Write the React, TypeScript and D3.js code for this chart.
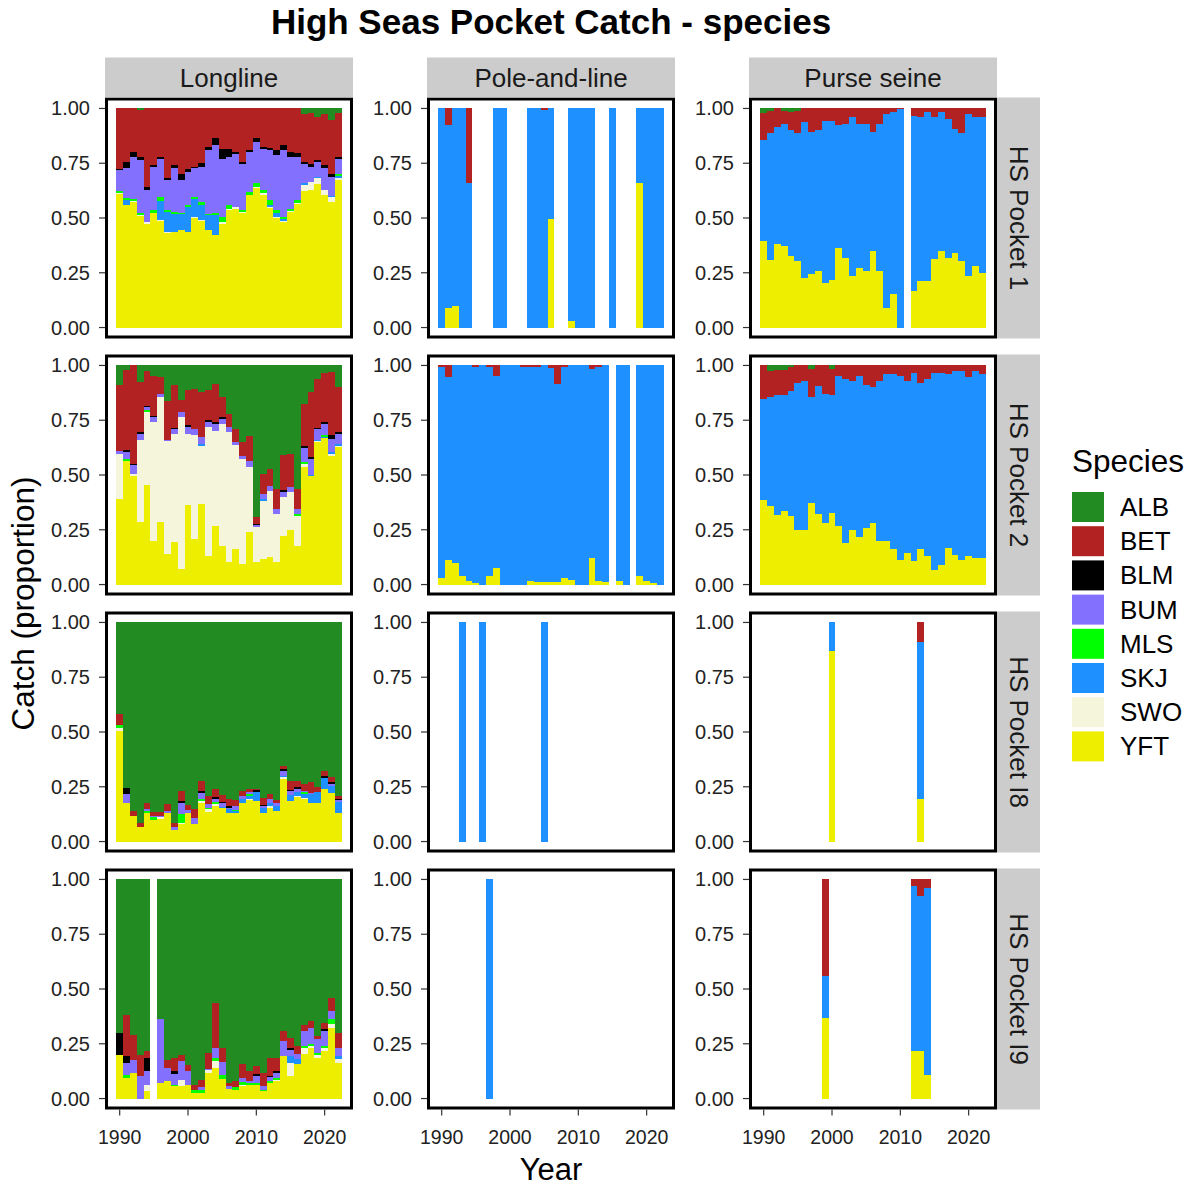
import React, { useEffect, useRef } from "react";
import * as d3 from "d3";

const species = ["ALB", "BET", "BLM", "BUM", "MLS", "SKJ", "SWO", "YFT"];
const speciesColors = ["#228B22", "#B22222", "#000000", "#8470FF", "#00FF00", "#1E90FF", "#F5F5DC", "#EEEE00"];
const gears = ["Longline", "Pole-and-line", "Purse seine"];
const pockets = ["HS Pocket 1", "HS Pocket 2", "HS Pocket I8", "HS Pocket I9"];
const yearTicks = [1990, 2000, 2010, 2020];
const catchTicks = [0, 0.25, 0.5, 0.75, 1];

// rows: year, ALB, BET, BLM, BUM, MLS, SKJ, SWO, YFT  (% of catch)
const longlineP1 = [
  [1990, 0, 27.7, 0.6, 9.3, 1.2, 0, 0.3, 60.9],
  [1991, 0, 24.4, 3.0, 13.4, 1.2, 2.1, 0, 55.9],
  [1992, 0, 20.1, 2.0, 19.3, 0.9, 0, 0.6, 57.1],
  [1993, 0.8, 21.3, 1.5, 23.9, 1.2, 0, 0.3, 51.0],
  [1994, 0, 35.8, 1.5, 14.5, 0, 0, 1.1, 47.2],
  [1995, 0, 25.9, 0.8, 19.8, 1.1, 0, 0, 52.5],
  [1996, 0, 22.1, 0.8, 17.8, 1.4, 9.0, 0.5, 48.6],
  [1997, 0, 32.0, 0.8, 13.7, 0.8, 9.1, 0.3, 43.4],
  [1998, 0, 25.9, 1.5, 19.8, 0.8, 8.4, 0, 43.7],
  [1999, 0, 29.7, 3.0, 14.8, 0.5, 7.6, 0, 44.4],
  [2000, 0, 27.7, 1.2, 15.2, 0.9, 11.3, 0.3, 43.4],
  [2001, 0, 26.6, 0.8, 13.2, 0.8, 8.1, 0.5, 50.1],
  [2002, 0, 25.1, 1.5, 16.3, 1.2, 6.8, 0.5, 48.6],
  [2003, 0, 17.5, 1.5, 28.9, 0.8, 6.8, 0, 44.4],
  [2004, 0, 13.7, 3.0, 31.2, 0.8, 9.1, 0, 42.2],
  [2005, 0, 18.3, 4.6, 26.6, 2.6, 0, 0.5, 47.5],
  [2006, 0, 18.3, 3.8, 22.1, 1.8, 0, 0.5, 53.6],
  [2007, 0, 19.8, 0.8, 24.4, 0, 0, 0.8, 54.3],
  [2008, 0, 24.4, 0.8, 21.3, 0.8, 0, 0.3, 52.5],
  [2009, 0, 19.0, 0.8, 18.3, 1.2, 0, 0.3, 60.4],
  [2010, 0, 13.7, 1.5, 19.0, 1.5, 0, 0.8, 63.5],
  [2011, 0, 17.5, 0.8, 19.0, 1.1, 0, 0.9, 60.7],
  [2012, 0, 18.0, 0.8, 23.1, 2.3, 0.8, 0.5, 54.6],
  [2013, 0, 19.0, 2.3, 25.1, 1.5, 1.5, 0.5, 50.1],
  [2014, 0, 16.7, 2.3, 30.4, 1.1, 0.9, 0.3, 48.2],
  [2015, 0, 19.8, 2.3, 23.6, 1.2, 0, 0.3, 52.8],
  [2016, 0, 20.5, 1.5, 19.9, 1.2, 0, 0.3, 56.5],
  [2017, 2.3, 22.1, 0.8, 8.7, 0, 0.8, 2.7, 62.3],
  [2018, 2.3, 22.8, 1.5, 6.8, 0, 0.3, 3.5, 62.7],
  [2019, 3.8, 19.8, 0.8, 6.8, 0, 0.8, 2.3, 65.8],
  [2020, 2.7, 23.1, 1.2, 10.2, 0, 0, 2.3, 60.4],
  [2021, 5.3, 24.4, 1.5, 8.7, 0, 0.6, 2.4, 57.1],
  [2022, 2.3, 19.8, 0.8, 7.2, 0.9, 0.8, 1.1, 67.3],
];

const longlineP2 = [
  [1990, 9.1, 29.7, 0, 1.5, 0, 0, 20.5, 39.1],
  [1991, 2.3, 36.5, 0.5, 3.3, 0.8, 0, 0, 56.6],
  [1992, 0, 44.9, 0.8, 3.8, 0, 0, 0.8, 49.8],
  [1993, 7.6, 22.8, 0.8, 3.0, 0, 0, 37.3, 28.5],
  [1994, 2.3, 16.0, 0.8, 1.1, 0.9, 0, 33.5, 45.2],
  [1995, 4.6, 18.3, 0.8, 2.3, 0, 0, 54.0, 20.1],
  [1996, 5.3, 7.6, 0, 1.5, 0, 0, 57.1, 28.5],
  [1997, 16.0, 17.8, 0, 0.6, 0, 0, 51.6, 14.0],
  [1998, 9.1, 19.5, 0.6, 2.0, 0, 0, 49.5, 19.3],
  [1999, 16.0, 5.3, 0, 2.3, 0, 0, 69.3, 7.2],
  [2000, 11.4, 16.0, 0.8, 3.0, 0, 0, 32.7, 36.1],
  [2001, 10.7, 18.3, 0, 3.0, 0, 0, 47.2, 20.9],
  [2002, 12.2, 20.5, 0, 3.0, 0, 0.8, 26.6, 36.8],
  [2003, 11.4, 13.7, 0.8, 2.3, 0, 0, 58.6, 13.2],
  [2004, 8.4, 17.5, 0.8, 3.0, 0, 0, 43.4, 26.9],
  [2005, 14.5, 9.1, 0.8, 2.3, 0, 0, 55.6, 17.8],
  [2006, 22.1, 6.1, 0, 2.3, 0, 0, 59.4, 10.2],
  [2007, 28.9, 6.1, 0, 1.5, 0, 0, 47.2, 16.3],
  [2008, 35.0, 6.1, 0, 1.5, 0, 0, 47.9, 9.4],
  [2009, 32.0, 11.4, 0, 3.0, 0, 0, 29.7, 23.9],
  [2010, 69.3, 3.0, 0.8, 0.5, 0, 0, 16.3, 10.2],
  [2011, 49.5, 9.1, 0, 2.3, 0, 0.8, 26.6, 11.7],
  [2012, 47.2, 7.6, 0, 2.3, 0, 0, 30.4, 12.5],
  [2013, 56.3, 9.1, 0, 2.3, 0, 0, 22.1, 10.2],
  [2014, 41.1, 16.0, 0.8, 2.3, 0, 0, 17.5, 22.4],
  [2015, 40.3, 15.2, 0, 2.3, 0, 0, 17.5, 24.7],
  [2016, 56.3, 9.1, 0, 2.3, 0.8, 0, 13.7, 17.8],
  [2017, 17.5, 19.3, 0.8, 6.5, 0.8, 0, 1.5, 53.6],
  [2018, 12.2, 29.7, 0.8, 7.3, 0, 0.6, 0, 49.5],
  [2019, 6.1, 22.5, 0.6, 4.6, 0, 0.6, 0.6, 65.0],
  [2020, 3.3, 22.5, 0.8, 5.3, 0.8, 0.5, 0, 66.8],
  [2021, 3.0, 28.9, 1.5, 6.1, 0, 0.8, 0.8, 58.9],
  [2022, 9.9, 20.5, 0.8, 4.6, 0, 0.8, 0.5, 63.0],
];

const longlineP3 = [
  [1990, 41.9, 5.0, 0, 0, 1.1, 0, 1.5, 50.5],
  [1991, 75.3, 0, 3.0, 3.8, 0, 0, 0, 17.8],
  [1992, 86.0, 2.3, 0, 0, 0, 0, 0, 11.7],
  [1993, 91.3, 1.5, 0, 0, 0, 0, 0, 6.8],
  [1994, 82.2, 3.0, 0, 0.8, 0.8, 0, 0, 13.2],
  [1995, 86.8, 1.5, 0, 0.8, 1.1, 0, 0, 9.9],
  [1996, 86.8, 1.5, 0, 0.8, 0, 0, 0.8, 10.2],
  [1997, 83.0, 3.0, 0, 0.8, 0, 0, 0, 13.2],
  [1998, 91.3, 1.5, 0, 1.5, 0, 0, 0, 5.3],
  [1999, 76.9, 4.6, 0.8, 5.3, 3.8, 0, 0.8, 7.9],
  [2000, 83.0, 2.3, 0, 1.2, 0, 0, 0, 13.2],
  [2001, 85.2, 3.8, 0, 3.0, 0, 0, 0, 7.9],
  [2002, 72.3, 4.6, 0.8, 3.0, 0.8, 0, 0.8, 17.8],
  [2003, 79.1, 3.8, 0, 1.5, 0.5, 0, 1.5, 13.5],
  [2004, 76.1, 3.8, 0.8, 1.5, 0.8, 0, 0.8, 16.3],
  [2005, 78.4, 3.0, 0.8, 1.5, 0, 0.8, 0, 15.1],
  [2006, 80.7, 3.3, 0.8, 0.5, 0, 1.8, 0, 12.9],
  [2007, 80.7, 3.0, 0, 1.5, 0.8, 0.5, 0, 13.2],
  [2008, 76.9, 2.3, 0, 1.5, 0, 1.5, 0, 17.8],
  [2009, 76.1, 1.5, 0, 0.8, 0.8, 1.5, 0.3, 19.0],
  [2010, 75.6, 0.8, 0.6, 0.3, 0, 4.1, 0, 18.3],
  [2011, 79.9, 3.0, 0.8, 0.8, 0, 2.3, 0, 12.9],
  [2012, 78.4, 2.3, 0, 1.5, 0, 1.5, 0.8, 15.5],
  [2013, 80.7, 1.5, 0, 1.5, 0, 2.3, 0, 13.7],
  [2014, 65.4, 1.5, 0.8, 2.3, 0, 0.8, 0.5, 28.8],
  [2015, 72.3, 3.8, 0.8, 1.5, 0, 3.0, 0, 18.3],
  [2016, 72.3, 3.0, 0.8, 1.2, 0, 1.8, 0.5, 20.4],
  [2017, 73.8, 3.0, 0, 0.8, 0.5, 1.8, 0.5, 19.6],
  [2018, 73.1, 4.6, 0, 0.8, 0, 3.8, 0, 17.8],
  [2019, 75.3, 2.3, 0, 0, 0, 4.6, 0, 17.8],
  [2020, 67.7, 2.3, 0.8, 0, 0, 5.3, 0, 23.9],
  [2021, 70.8, 2.3, 0.8, 0.8, 0, 3.0, 0, 22.4],
  [2022, 79.1, 1.5, 0.5, 0.8, 0, 4.9, 0, 13.2],
];

// no longline data for 1995 in pocket I9
const longlineP4 = [
  [1990, 70.0, 0, 9.9, 0, 0, 0, 0, 20.1],
  [1991, 61.6, 19.0, 3.0, 5.3, 1.5, 0, 0, 9.4],
  [1992, 70.8, 11.4, 0, 6.1, 0, 0, 0, 11.7],
  [1993, 79.9, 9.9, 0, 10.2, 0, 0, 0, 0],
  [1994, 78.4, 3.0, 6.1, 6.1, 0, 0, 3.0, 3.3],
  [1996, 63.9, 0, 0, 28.9, 0, 0, 0, 7.2],
  [1997, 82.2, 3.8, 0, 6.1, 0, 0, 0, 7.9],
  [1998, 81.4, 6.1, 1.5, 4.6, 0.8, 0, 0, 5.6],
  [1999, 79.9, 3.0, 0, 8.4, 0, 0, 3.0, 5.6],
  [2000, 84.5, 3.0, 0, 6.1, 0, 0, 0, 6.4],
  [2001, 93.6, 2.3, 0, 0, 1.5, 0, 0, 2.6],
  [2002, 91.3, 3.0, 0, 1.5, 1.2, 0, 0, 2.6],
  [2003, 79.1, 7.3, 0, 0.6, 0, 0, 1.2, 11.7],
  [2004, 56.3, 20.5, 0, 4.6, 1.5, 0, 3.0, 14.0],
  [2005, 76.9, 6.1, 0, 6.1, 1.5, 0, 0, 9.1],
  [2006, 92.8, 1.5, 0, 1.2, 0, 0, 0, 4.4],
  [2007, 92.1, 2.6, 0, 0, 1.2, 0, 0, 4.1],
  [2008, 84.5, 6.1, 0, 2.0, 1.1, 0, 0.8, 5.6],
  [2009, 87.5, 4.6, 0, 0.8, 0.8, 0, 0, 6.4],
  [2010, 85.2, 3.8, 0.8, 3.0, 0.8, 0, 0, 6.4],
  [2011, 88.3, 6.1, 0, 1.5, 0.8, 0, 0, 3.3],
  [2012, 81.4, 8.4, 0.5, 1.8, 0.8, 0, 0, 7.2],
  [2013, 81.4, 6.1, 0.8, 2.3, 0.8, 0, 0.8, 7.9],
  [2014, 69.3, 4.6, 0, 6.8, 0, 0, 0, 19.3],
  [2015, 72.3, 4.6, 0.8, 3.0, 0, 3.0, 6.1, 10.2],
  [2016, 75.3, 3.8, 0, 2.3, 0, 2.3, 0, 15.5],
  [2017, 66.2, 3.0, 0, 6.8, 0.8, 0, 3.0, 20.1],
  [2018, 64.7, 3.0, 0, 7.6, 0.8, 0, 0.8, 23.1],
  [2019, 71.5, 1.5, 0, 6.1, 0.8, 0, 1.5, 18.6],
  [2020, 65.4, 3.0, 0.8, 6.8, 0.8, 0, 1.5, 21.6],
  [2021, 54.0, 6.1, 0, 3.8, 2.3, 0, 1.5, 32.3],
  [2022, 70.0, 6.8, 0, 3.8, 0, 1.2, 1.8, 16.3],
];

const poleP1 = [
  [1990, 0, 0, 0, 0, 0, 100, 0, 0],
  [1991, 0, 7.6, 0, 0, 0, 83.7, 0, 8.7],
  [1992, 0, 0, 0, 0, 0, 90.1, 0, 9.9],
  [1993, 0, 0, 0, 0, 0, 100, 0, 0],
  [1994, 0, 33.8, 0, 0, 0, 66.2, 0, 0],
  [1998, 0, 0, 0, 0, 0, 100, 0, 0],
  [1999, 0, 0, 0, 0, 0, 100, 0, 0],
  [2003, 0, 0, 0, 0, 0, 100, 0, 0],
  [2004, 0, 0, 0, 0, 0, 100, 0, 0],
  [2005, 0, 0.8, 0, 0, 0, 99.2, 0, 0],
  [2006, 0, 0, 0, 0, 0, 50.5, 0, 49.5],
  [2009, 0, 0, 0, 0, 0, 97.0, 0, 3.0],
  [2010, 0, 0, 0, 0, 0, 100, 0, 0],
  [2011, 0, 0, 0, 0, 0, 100, 0, 0],
  [2012, 0, 0, 0, 0, 0, 100, 0, 0],
  [2015, 0, 0, 0, 0, 0, 100, 0, 0],
  [2019, 0, 0, 0, 0, 0, 33.8, 0, 66.2],
  [2020, 0, 0, 0, 0, 0, 100, 0, 0],
  [2021, 0, 0, 0, 0, 0, 100, 0, 0],
  [2022, 0, 0, 0, 0, 0, 100, 0, 0],
];

const poleP2 = [
  [1990, 0, 0.8, 0, 0, 0, 96.2, 0, 3.0],
  [1991, 0, 5.3, 0, 0, 0, 83.7, 0, 11.0],
  [1992, 0, 0, 0, 0, 0, 90.1, 0, 9.9],
  [1993, 0, 0, 0, 0, 0, 95.9, 0, 4.1],
  [1994, 0, 0, 0, 0, 0, 98.6, 0, 1.4],
  [1995, 0, 0.8, 0, 0, 0, 98.4, 0, 0.8],
  [1996, 0, 0, 0, 0, 0, 100, 0, 0],
  [1997, 0, 0.8, 0, 0, 0, 95.1, 0, 4.1],
  [1998, 0, 4.6, 0, 0, 0, 87.8, 0, 7.6],
  [1999, 0, 0, 0, 0, 0, 100, 0, 0],
  [2000, 0, 0, 0, 0, 0, 100, 0, 0],
  [2001, 0, 0, 0, 0, 0, 100, 0, 0],
  [2002, 0, 0.8, 0, 0, 0, 99.2, 0, 0],
  [2003, 0, 0.8, 0, 0, 0, 97.5, 0, 1.7],
  [2004, 0, 0.8, 0, 0, 0, 98.1, 0, 1.1],
  [2005, 0, 0, 0, 0, 0, 98.9, 0, 1.1],
  [2006, 0, 1.2, 0, 0, 0, 97.7, 0, 1.1],
  [2007, 0, 8.4, 0, 0, 0, 90.5, 0, 1.1],
  [2008, 0, 0.8, 0, 0, 0, 96.2, 0, 3.0],
  [2009, 0, 0, 0, 0, 0, 97.7, 0, 2.3],
  [2010, 0, 0, 0, 0, 0, 100, 0, 0],
  [2011, 0, 0, 0, 0, 0, 100, 0, 0],
  [2012, 0, 1.5, 0, 0, 0, 86.3, 0, 12.2],
  [2013, 0, 0.8, 0, 0, 0, 97.5, 0, 1.7],
  [2014, 0, 0, 0, 0, 0, 98.9, 0, 1.1],
  [2016, 0, 0, 0, 0, 0, 98.3, 0, 1.7],
  [2017, 0, 0, 0, 0, 0, 100, 0, 0],
  [2019, 0, 0, 0, 0, 0, 95.9, 0, 4.1],
  [2020, 0, 0, 0, 0, 0, 98.3, 0, 1.7],
  [2021, 0, 0, 0, 0, 0, 99.2, 0, 0.8],
  [2022, 0, 0, 0, 0, 0, 100, 0, 0],
];

const poleP3 = [
  [1993, 0, 0, 0, 0, 0, 100, 0, 0],
  [1996, 0, 0, 0, 0, 0, 100, 0, 0],
  [2005, 0, 0, 0, 0, 0, 100, 0, 0],
];

const poleP4 = [[1997, 0, 0, 0, 0, 0, 100, 0, 0]];

const purseP1 = [
  [1990, 2.3, 12.2, 0, 0, 0, 46.0, 0, 39.6],
  [1991, 1.2, 10.2, 0, 0, 0, 57.8, 0, 30.7],
  [1992, 0, 8.4, 0, 0, 0, 53.6, 0, 38.1],
  [1993, 1.1, 6.2, 0, 0, 0, 55.4, 0, 37.3],
  [1994, 1.5, 8.4, 0, 0, 0, 57.4, 0, 32.7],
  [1995, 1.2, 10.2, 0, 0, 0, 58.1, 0, 30.4],
  [1996, 0, 6.4, 0, 0, 0, 70.8, 0, 22.8],
  [1997, 0, 10.7, 0, 0, 0, 65.0, 0, 24.4],
  [1998, 0, 9.9, 0, 0, 0, 64.2, 0, 25.9],
  [1999, 0, 5.6, 0, 0, 0, 73.8, 0, 20.5],
  [2000, 0, 5.6, 0, 0, 0, 72.9, 0, 21.5],
  [2001, 0, 7.6, 0, 0, 0, 55.9, 0, 36.5],
  [2002, 0, 7.2, 0, 0, 0, 60.9, 0, 32.0],
  [2003, 0, 4.1, 0, 0, 0, 72.3, 0, 23.6],
  [2004, 0, 7.2, 0, 0, 0, 65.4, 0, 27.4],
  [2005, 0, 7.2, 0, 0, 0, 67.0, 0, 25.9],
  [2006, 0, 10.7, 0, 0, 0, 54.3, 0, 35.0],
  [2007, 0, 7.2, 0, 0, 0, 67.0, 0, 25.9],
  [2008, 0, 2.6, 0, 0, 0, 88.3, 0, 9.1],
  [2009, 0, 1.5, 0, 0, 0, 83.3, 0, 15.2],
  [2010, 0, 0.3, 0, 0, 0, 99.7, 0, 0],
  [2012, 0, 3.3, 0, 0, 0, 79.9, 0, 16.7],
  [2013, 0, 4.1, 0, 0, 0, 74.6, 0, 21.3],
  [2014, 0, 1.8, 0, 0, 0, 76.9, 0, 21.3],
  [2015, 0, 4.1, 0, 0, 0, 64.7, 0, 31.2],
  [2016, 0, 1.8, 0, 0, 0, 63.2, 0, 35.0],
  [2017, 0, 4.9, 0, 0, 0, 63.2, 0, 32.0],
  [2018, 0, 9.4, 0, 0, 0, 56.3, 0, 34.2],
  [2019, 0, 11.0, 0, 0, 0, 58.6, 0, 30.4],
  [2020, 0, 2.6, 0, 0, 0, 73.8, 0, 23.6],
  [2021, 0, 3.8, 0, 0, 0, 68.0, 0, 28.2],
  [2022, 0, 3.8, 0, 0, 0, 71.1, 0, 25.1],
];

const purseP2 = [
  [1990, 0, 15.5, 0, 0, 0, 45.7, 0, 38.8],
  [1991, 2.7, 11.7, 0, 0, 0, 49.8, 0, 35.8],
  [1992, 2.3, 11.0, 0, 0, 0, 54.8, 0, 32.0],
  [1993, 2.3, 11.4, 0, 0, 0, 52.8, 0, 33.5],
  [1994, 0.8, 11.0, 0, 0, 0, 57.1, 0, 31.2],
  [1995, 0, 7.9, 0, 0, 0, 67.0, 0, 25.1],
  [1996, 0, 7.2, 0, 0, 0, 67.7, 0, 25.1],
  [1997, 1.5, 12.9, 0, 0, 0, 48.2, 0, 37.3],
  [1998, 0, 9.4, 0, 0, 0, 58.6, 0, 32.0],
  [1999, 0, 13.2, 0, 0, 0, 58.6, 0, 28.2],
  [2000, 1.5, 12.2, 0, 0, 0, 53.6, 0, 32.7],
  [2001, 0, 4.9, 0, 0, 0, 68.5, 0, 26.6],
  [2002, 0, 6.4, 0, 0, 0, 74.6, 0, 19.0],
  [2003, 0, 7.2, 0, 0, 0, 67.7, 0, 25.1],
  [2004, 0, 4.9, 0, 0, 0, 73.5, 0, 21.6],
  [2005, 0, 9.1, 0, 0, 0, 65.0, 0, 25.9],
  [2006, 0, 9.9, 0, 0, 0, 61.9, 0, 28.2],
  [2007, 0, 7.2, 0, 0, 0, 73.1, 0, 19.8],
  [2008, 0, 4.1, 0, 0, 0, 76.1, 0, 19.8],
  [2009, 0, 4.1, 0, 0, 0, 79.9, 0, 16.0],
  [2010, 0, 4.9, 0, 0, 0, 83.7, 0, 11.4],
  [2011, 0, 7.2, 0, 0, 0, 78.4, 0, 14.5],
  [2012, 0, 3.3, 0, 0, 0, 86.0, 0, 10.7],
  [2013, 0, 7.9, 0, 0, 0, 76.1, 0, 16.0],
  [2014, 0, 6.4, 0, 0, 0, 80.7, 0, 12.9],
  [2015, 0, 3.3, 0, 0, 0, 89.8, 0, 6.8],
  [2016, 0, 3.3, 0, 0, 0, 87.5, 0, 9.1],
  [2017, 0, 3.8, 0, 0, 0, 79.5, 0, 16.7],
  [2018, 0, 2.6, 0, 0, 0, 83.7, 0, 13.7],
  [2019, 0, 2.6, 0, 0, 0, 86.0, 0, 11.4],
  [2020, 0, 5.3, 0, 0, 0, 81.7, 0, 12.9],
  [2021, 0, 2.6, 0, 0, 0, 85.2, 0, 12.2],
  [2022, 0, 3.8, 0, 0, 0, 84.0, 0, 12.2],
];

const purseP3 = [
  [2000, 0, 0, 0, 0, 0, 12.9, 0, 87.1],
  [2013, 0, 9.1, 0, 0, 0, 71.5, 0, 19.3],
];

const purseP4 = [
  [1999, 0, 44.1, 0, 0, 0, 19.0, 0, 36.8],
  [2012, 0, 3.0, 0, 0, 0, 75.3, 0, 21.6],
  [2013, 0, 7.6, 0, 0, 0, 70.8, 0, 21.6],
  [2014, 0, 3.8, 0, 0, 0, 85.5, 0, 10.7],
];

// facet grid: rows = pockets, columns = gears
const grid = [
  [longlineP1, poleP1, purseP1],
  [longlineP2, poleP2, purseP2],
  [longlineP3, poleP3, purseP3],
  [longlineP4, poleP4, purseP4],
];

const FONT = "'Liberation Sans', Arial, Helvetica, sans-serif";

export default function App() {
  const ref = useRef<SVGSVGElement>(null);

  useEffect(() => {
    const svg = d3.select(ref.current);
    svg.selectAll("*").remove();

    const left0 = 105, colStep = 322, panelW = 248;
    const top0 = 97.5, rowStep = 257, panelH = 241;
    const stripH = 40, stripW = 43;

    const x = d3.scaleLinear().domain([1987.85, 2024.15]).range([0, panelW]);
    const y = d3.scaleLinear().domain([-0.05, 1.05]).range([panelH, 0]);
    const color = d3.scaleOrdinal<string, string>().domain(species).range(speciesColors);
    // YFT sits at the bottom of each bar, ALB on top
    const stack = d3.stack<any>().keys(species.slice().reverse()).offset(d3.stackOffsetExpand);

    const toRecords = (rows: number[][]) =>
      rows.map((r) => {
        const o: any = { year: r[0] };
        species.forEach((s, i) => (o[s] = r[i + 1]));
        return o;
      });

    svg.append("rect").attr("width", 1197).attr("height", 1187).attr("fill", "#fff");

    grid.forEach((row, ri) => {
      row.forEach((rows, ci) => {
        const g = svg.append("g").attr("transform", `translate(${left0 + ci * colStep},${top0 + ri * rowStep})`);
        g.append("rect").attr("width", panelW).attr("height", panelH).attr("fill", "#fff");

        const series = stack(toRecords(rows));
        series.forEach((layer) => {
          g.append("g")
            .attr("fill", color(layer.key))
            .attr("shape-rendering", "crispEdges")
            .selectAll("rect")
            .data(layer.filter((d) => d[1] - d[0] > 0))
            .join("rect")
            .attr("x", (d) => x(d.data.year - 0.5))
            .attr("width", (d) => x(d.data.year + 0.5) - x(d.data.year - 0.5))
            .attr("y", (d) => y(d[1]))
            .attr("height", (d) => y(d[0]) - y(d[1]));
        });

        g.append("rect")
          .attr("x", 1.5).attr("y", 1.5)
          .attr("width", panelW - 3).attr("height", panelH - 3)
          .attr("fill", "none").attr("stroke", "#000").attr("stroke-width", 3);

        // y axis
        catchTicks.forEach((t) => {
          g.append("line")
            .attr("x1", -6).attr("x2", 0)
            .attr("y1", y(t)).attr("y2", y(t))
            .attr("stroke", "#333").attr("stroke-width", 1.2);
          g.append("text")
            .attr("x", -15).attr("y", y(t))
            .attr("text-anchor", "end").attr("dominant-baseline", "central")
            .attr("font-family", FONT).attr("font-size", 20).attr("fill", "#222")
            .text(d3.format(".2f")(t));
        });

        // x axis only under the bottom row
        if (ri === grid.length - 1) {
          yearTicks.forEach((t) => {
            g.append("line")
              .attr("x1", x(t)).attr("x2", x(t))
              .attr("y1", panelH).attr("y2", panelH + 6)
              .attr("stroke", "#333").attr("stroke-width", 1.2);
            g.append("text")
              .attr("x", x(t)).attr("y", panelH + 34)
              .attr("text-anchor", "middle")
              .attr("font-family", FONT).attr("font-size", 19.5).attr("fill", "#222")
              .text(t);
          });
        }

        if (ri === 0) {
          g.append("rect").attr("y", -stripH).attr("width", panelW).attr("height", stripH).attr("fill", "#CCCCCC");
          g.append("text")
            .attr("x", panelW / 2).attr("y", -stripH / 2)
            .attr("text-anchor", "middle").attr("dominant-baseline", "central")
            .attr("font-family", FONT).attr("font-size", 26).attr("fill", "#1A1A1A")
            .text(gears[ci]);
        }

        if (ci === row.length - 1) {
          g.append("rect").attr("x", panelW).attr("width", stripW).attr("height", panelH).attr("fill", "#CCCCCC");
          g.append("text")
            .attr("transform", `translate(${panelW + stripW / 2},${panelH / 2}) rotate(90)`)
            .attr("text-anchor", "middle").attr("dominant-baseline", "central")
            .attr("font-family", FONT).attr("font-size", 26).attr("fill", "#1A1A1A")
            .text(pockets[ri]);
        }
      });
    });

    const plotCx = left0 + (2 * colStep + panelW) / 2;
    const plotCy = top0 + (3 * rowStep + panelH) / 2;

    svg.append("text")
      .attr("x", plotCx).attr("y", 34)
      .attr("text-anchor", "middle")
      .attr("font-family", FONT).attr("font-size", 35).attr("font-weight", "bold").attr("fill", "#000")
      .text("High Seas Pocket Catch - species");

    svg.append("text")
      .attr("x", plotCx).attr("y", 1180)
      .attr("text-anchor", "middle")
      .attr("font-family", FONT).attr("font-size", 31).attr("fill", "#000")
      .text("Year");

    svg.append("text")
      .attr("transform", `translate(34,${plotCy}) rotate(-90)`)
      .attr("text-anchor", "middle")
      .attr("font-family", FONT).attr("font-size", 31.5).attr("fill", "#000")
      .text("Catch (proportion)");

    // legend
    const legend = svg.append("g").attr("transform", "translate(1072,0)");
    legend.append("text")
      .attr("x", 0).attr("y", 472)
      .attr("font-family", FONT).attr("font-size", 31.5).attr("fill", "#000")
      .text("Species");
    species.forEach((s, i) => {
      const ky = 492 + i * 34.2;
      legend.append("rect")
        .attr("x", 0).attr("y", ky).attr("width", 32).attr("height", 30)
        .attr("fill", color(s));
      legend.append("text")
        .attr("x", 48).attr("y", ky + 15)
        .attr("dominant-baseline", "central")
        .attr("font-family", FONT).attr("font-size", 26).attr("fill", "#000")
        .text(s);
    });
  }, []);

  return (
    <svg
      ref={ref}
      width={1197}
      height={1187}
      style={{ position: "absolute", left: 0, top: 0, display: "block" }}
    />
  );
}
